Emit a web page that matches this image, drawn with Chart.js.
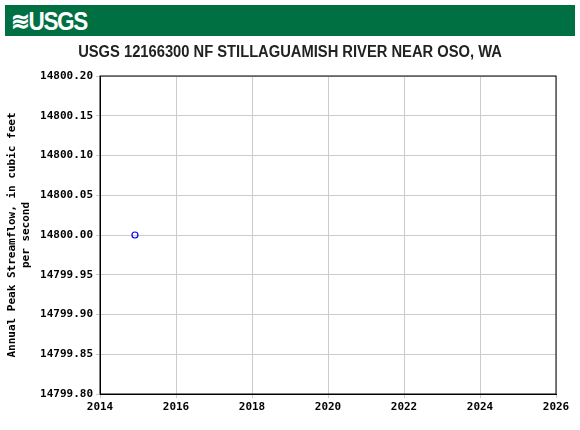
<!DOCTYPE html>
<html><head><meta charset="utf-8">
<script src="https://cdn.jsdelivr.net/npm/chart.js@4"></script>
<style>
body{margin:0;width:580px;height:430px;background:#fff;position:relative;overflow:hidden}
#hdr{position:absolute;left:5px;top:5px;width:570px;height:31px;background:#006f41;}
#logo{position:absolute;left:6px;top:2px;color:#fff;font:bold 25px "Liberation Sans",Arial;letter-spacing:-1.5px;transform:scaleX(0.9);transform-origin:left}
#title{position:absolute;left:0;width:580px;top:43px;text-align:center;font:bold 16px "Liberation Sans",Arial;color:#222;transform:scaleX(0.92)}
canvas{position:absolute;left:0;top:0}
</style></head><body>
<canvas id="c" width="580" height="430"></canvas>
<div id="hdr"><div id="logo">≋USGS</div></div>
<div id="title">USGS 12166300 NF STILLAGUAMISH RIVER NEAR OSO, WA</div>
<script>
const years=[2014.92];
const peaks=[14800.0];
const xTicks=[2014,2016,2018,2020,2022,2024,2026];
const yMin=14799.8,yMax=14800.2;
const font={family:"DejaVu Sans Mono",size:11,weight:"bold"};
new Chart(document.getElementById('c'),{
 type:'scatter',
 data:{datasets:[{data:years.map((x,i)=>({x,y:peaks[i]})),pointStyle:'circle',radius:3,borderColor:'#0000ee',backgroundColor:'rgba(0,0,0,0)',borderWidth:1.2}]},
 options:{responsive:false,animation:false,
  layout:{padding:{top:76,right:24,left:6,bottom:0}},
  plugins:{legend:{display:false},tooltip:{enabled:false}},
  scales:{
   x:{min:2014,max:2026,afterBuildTicks:s=>{s.ticks=xTicks.map(v=>({value:v}))},
     afterFit:s=>{s.height=36},
     grid:{color:'#cccccc',drawTicks:true,tickLength:4},border:{color:'#000'},
     ticks:{font,color:'#000',maxRotation:0,callback:v=>String(v)}},
   y:{min:yMin,max:yMax,afterFit:s=>{s.width=94},
     grid:{color:'#cccccc',tickLength:4},border:{color:'#000'},
     ticks:{font,color:'#000',stepSize:0.05,callback:v=>v.toFixed(2)},
     title:{display:true,text:['Annual Peak Streamflow, in cubic feet','per second'],font:{family:"DejaVu Sans Mono",size:11,weight:"bold"},color:'#000',padding:0}}
  }},
 plugins:[{id:'frame',afterDraw(c){const a=c.chartArea,x=c.ctx;x.save();x.strokeStyle='#000';x.lineWidth=1;x.strokeRect(a.left,a.top,a.right-a.left,a.bottom-a.top);x.restore();}}]
});
</script></body></html>
